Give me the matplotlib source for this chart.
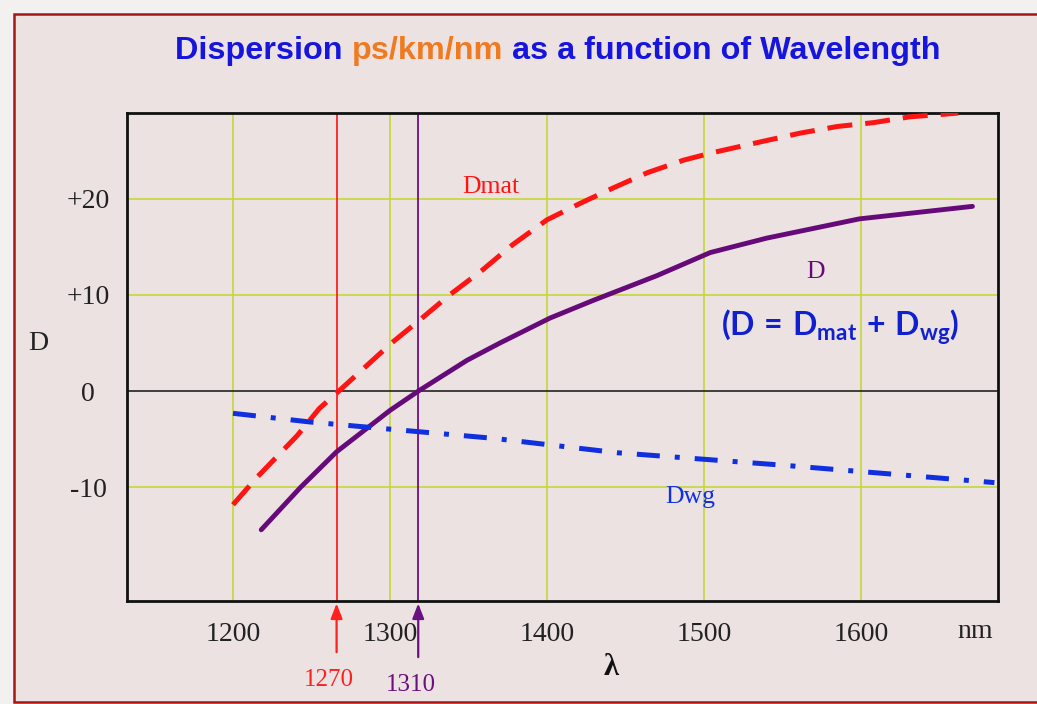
import matplotlib
matplotlib.use("Agg")
import matplotlib.pyplot as plt
from matplotlib.patches import Rectangle

# ---- data ----
grid_x = [1200, 1300, 1400, 1500, 1600]
grid_y = [20, 10, -10]
ytick_vals = [20, 10, 0, -10]
ytick_labels = ["+20", "+10", "0", "-10"]

dmat_x = [1200, 1215, 1241, 1255, 1266, 1301, 1319, 1338, 1359, 1378, 1400, 1421,
          1442, 1464, 1487, 1506, 1536, 1561, 1585, 1608, 1631, 1655, 1662]
dmat_y = [-11.8, -9.0, -4.6, -1.8, -0.2, 5.0, 7.4, 10.0, 12.6, 15.2, 17.8, 19.5,
          21.1, 22.7, 24.0, 24.8, 25.9, 26.8, 27.5, 27.9, 28.5, 28.8, 28.9]

d_x = [1218, 1243, 1266, 1300, 1318, 1349, 1370, 1402, 1429, 1470, 1504, 1540, 1599, 1671]
d_y = [-14.4, -10.0, -6.3, -2.0, 0.0, 3.2, 5.0, 7.6, 9.4, 12.0, 14.4, 15.9, 17.9, 19.2]

dwg_x = [1200, 1249, 1283, 1366, 1445, 1551, 1626, 1685]
dwg_y = [-2.3, -3.2, -3.7, -4.9, -6.4, -7.7, -8.7, -9.5]

marker_x = [1266, 1318]
marker_labels = ["1270", "1310"]
marker_colors = ["#ff2020", "#6a1080"]

BG = "#ece2e2"
GRID = "#c4d838"
RED = "#ff1414"
PURPLE = "#650a78"
BLUE = "#1030e0"

plt.rcParams["font.family"] = "Liberation Serif"
plt.rcParams["mathtext.fontset"] = "custom"
plt.rcParams["mathtext.rm"] = "Lato"
plt.rcParams["mathtext.bf"] = "Lato:bold"
plt.rcParams["mathtext.it"] = "Lato:bold"

fig = plt.figure(figsize=(10.37, 7.04), dpi=100, facecolor="#f3f0f0")
W, H = 1037, 704

# pink panel with dark red border
fig.patches.append(Rectangle((14 / W, 2 / H), (W + 20) / W, (H - 16) / H,
                             transform=fig.transFigure, facecolor=BG,
                             edgecolor="#a51515", linewidth=1.8, zorder=-5))

ax = fig.add_axes([127 / W, 1 - 601 / H, 871 / W, 488 / H])
ax.set_zorder(2)
ax.set_facecolor(BG)
ax.set_xlim(1132.5, 1687.3)
ax.set_ylim(-21.8, 28.9)

for gx in grid_x:
    ax.axvline(gx, color=GRID, lw=1.2, zorder=1)
for gy in grid_y:
    ax.axhline(gy, color=GRID, lw=1.2, zorder=1)
ax.axhline(0, color="#222222", lw=1.2, zorder=1)

for mx, mc in zip(marker_x, marker_colors):
    ax.axvline(mx, color=mc, lw=1.3, zorder=2)

ax.plot(dmat_x, dmat_y, color=RED, lw=3.6, linestyle=(0, (5, 2.6)), zorder=3)
ax.plot(d_x, d_y, color=PURPLE, lw=3.5, solid_capstyle="round", zorder=3)
ax.plot(dwg_x, dwg_y, color=BLUE, lw=3.6, linestyle=(0, (4.6, 3, 1, 3)), zorder=3)

for s in ax.spines.values():
    s.set_linewidth(2)
    s.set_color("#111111")

ax.set_xticks(grid_x)
ax.set_xticklabels([str(v) for v in grid_x])
ax.set_yticks(ytick_vals)
ax.set_yticklabels(ytick_labels)
ax.tick_params(length=0, labelsize=20, colors="#222222")
ax.tick_params(axis="x", pad=15)
ax.tick_params(axis="y", pad=28)
for lab in ax.get_yticklabels():
    lab.set_ha("center")

xt = ax.get_xaxis_transform()
ax.text(1673, -0.063, "nm", transform=xt, ha="center", va="center", fontsize=20, color="#222222")
ax.text(1441, -0.137, "λ", transform=xt, ha="center", va="center", fontsize=22,
        fontweight="bold", color="#111111")
fig.text(38 / W, 1 - 343 / H, "D", ha="center", va="center", fontsize=20, color="#222222")

# wavelength markers under the axis
for mx, lab, mc, dy in zip(marker_x, marker_labels, marker_colors, [0.0, 0.01]):
    ax.annotate("", xy=(mx, -0.005), xycoords=xt, xytext=(mx, -0.105 - dy), textcoords=xt,
                arrowprops=dict(arrowstyle="-|>,head_length=0.9,head_width=0.35",
                                color=mc, lw=1.6, shrinkA=0, shrinkB=0))
    ax.text(mx - 5, -0.162 - dy, lab, transform=xt, ha="center", va="center",
            fontsize=18, color=mc)

# curve labels
ax.text(1364, 21.2, "Dmat", color=RED, fontsize=18.5, ha="center", va="center")
ax.text(1571, 12.4, "D", color=PURPLE, fontsize=18.5, ha="center", va="center")
ax.text(1491, -11.0, "Dwg", color=BLUE, fontsize=18.5, ha="center", va="center")
ax.text(1587, 6.6, r"$\mathbf{(D\,=\,D_{mat}\,+\,D_{wg})}$", color="#1020d0",
        fontsize=23, ha="center", va="center")

# two-coloured title
parts = [("Dispersion ", "#1515dd"), ("ps/km/nm", "#f07a20"), (" as a function of Wavelength", "#1515dd")]
fig.canvas.draw()
r = fig.canvas.get_renderer()
texts = []
for s, c in parts:
    texts.append(fig.text(0, 1 - 51 / H, s, color=c, fontsize=23.3, fontweight="bold",
                          family="Liberation Sans", ha="left", va="center"))
widths = [t.get_window_extent(r).width for t in texts]
x0 = (558 - sum(widths) / 2)
for t, w in zip(texts, widths):
    t.set_x(x0 / W)
    x0 += w

fig.savefig("out.png", dpi=100, facecolor=fig.get_facecolor())
